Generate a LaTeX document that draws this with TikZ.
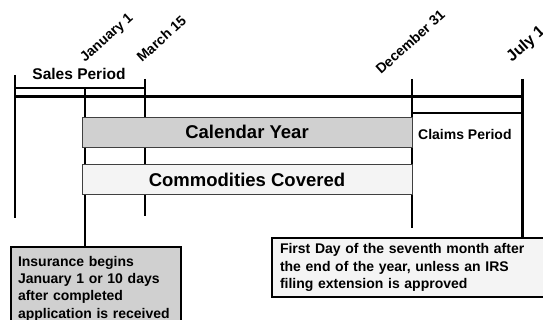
\documentclass[tikz,border=0pt]{standalone}
\usepackage{fontspec}
\setmainfont{Liberation Sans}
\usetikzlibrary{positioning}
\definecolor{bargray}{HTML}{D0D0D0}
\definecolor{barpale}{HTML}{F4F4F4}

\begin{document}
\begin{tikzpicture}[x=1pt,y=-1pt,
  datelbl/.style={rotate=42,anchor=base west,inner sep=0pt,font=\bfseries\fontsize{14}{16}\selectfont},
  bar/.style={draw=black!75,line width=0.8pt,minimum width=330pt,minimum height=30pt,inner sep=0pt,font=\bfseries\fontsize{18.5}{22}\selectfont},
  notebox/.style={draw,line width=2pt,anchor=north west,align=left,inner xsep=7pt,inner ysep=5pt,font=\bfseries\fontsize{14}{17.3}\selectfont}]
\clip (0,0) rectangle (543,320);
% tick tops and bottoms
\coordinate (t0) at (15,75);  \coordinate (b0) at (15,218);
\coordinate (t1) at (85,88);
\coordinate (t2) at (145,79); \coordinate (b2) at (145,216);
\coordinate (t3) at (412,79); \coordinate (b3) at (412,228);
\coordinate (t4) at (522,79);
\coordinate (m0) at (15,97);  \coordinate (m4) at (523.5,97);
\coordinate (s1) at (15,88);  \coordinate (s2) at (145,88);
\coordinate (c1) at (412,113); \coordinate (c2) at (522,113);
% boxes
\node[notebox,fill=bargray,text width=156pt,inner ysep=9pt] (ins) at (10,246)
  {Insurance begins\\ January 1 or 10 days\\ after completed\\ application is received};
\node[notebox,fill=barpale,text width=262pt,minimum height=59pt,inner xsep=8pt] (fd) at (271,237)
  {First Day of the seventh month after\\ the end of the year, unless an IRS\\ filing extension is approved};
% timeline
\draw[line width=2pt] (t0) -- (b0);
\draw[line width=2pt] (t1) -- (t1 |- ins.north);
\draw[line width=1.6pt] (t2) -- (b2);
\draw[line width=1.1pt] (t3) -- (b3);
\draw[line width=3pt] (t4) -- (t4 |- fd.north);
\draw[line width=3pt] (m0) -- (m4);
\draw[line width=1.2pt] (s1) -- (s2);
\draw[line width=2pt] (c1) -- (c2);
\node[bar,fill=bargray] (cal) at (247,132) {Calendar Year};
\node[bar,fill=barpale] (com) at (247,179.5) {Commodities Covered};
% labels
\node[font=\bfseries\fontsize{15.5}{18}\selectfont,inner sep=0pt] (sales) at (79,74) {Sales Period};
\node[font=\bfseries\fontsize{14}{17}\selectfont,anchor=west,inner sep=0pt] (claims) at (418,134) {Claims Period};
\node[datelbl] (jan) at (85,63) {January 1};
\node[datelbl] (mar) at (142,63) {March 15};
\node[datelbl] (dec) at (381,75) {December 31};
\node[datelbl,font=\bfseries\fontsize{16}{18}\selectfont] (jul) at (512,63) {July 1};
\end{tikzpicture}
\end{document}
